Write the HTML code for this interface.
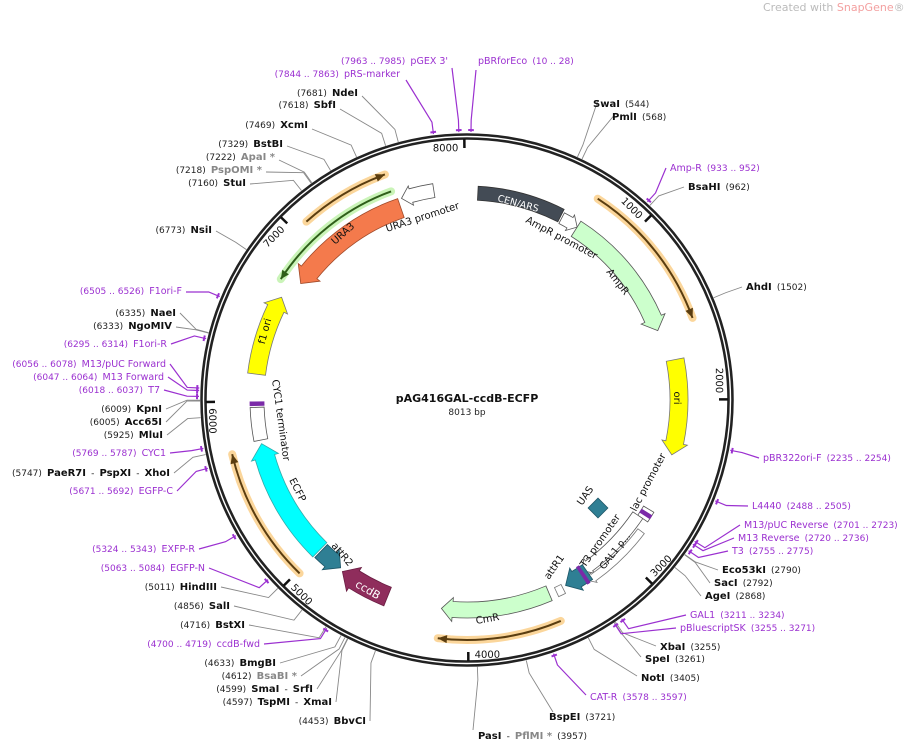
<!DOCTYPE html>
<html><head><meta charset="utf-8">
<style>
html,body{margin:0;padding:0;background:#fff;}
svg{display:block;font-family:"DejaVu Sans","Liberation Sans",sans-serif;}
.n{font-size:9px;fill:#222;}
.b{font-size:10px;font-weight:bold;fill:#111;}
.g{font-size:10px;font-weight:bold;fill:#888;}
.p{font-size:9.5px;fill:#9b30d0;}
.pn{font-size:9px;fill:#9b30d0;}
.f{font-size:10px;fill:#111;}
</style></head>
<body>
<svg id="s" width="914" height="743" viewBox="0 0 914 743" xmlns="http://www.w3.org/2000/svg">
<g id="lines"></g>
<circle cx="467" cy="400" r="263.5" fill="none" stroke="#222" stroke-width="6.5"/>
<circle cx="467" cy="400" r="263.5" fill="none" stroke="#fff" stroke-width="1.4"/>
<g id="feat"></g>
<g id="ticks"></g>

<text x="763" y="11" style="font-size:11px;fill:#bbb">Created with <tspan fill="#f3a0a0">SnapGene</tspan>®</text>
<text x="467" y="402" text-anchor="middle" style="font-size:11px;font-weight:bold;fill:#111">pAG416GAL-ccdB-ECFP</text>
<text x="467" y="415" text-anchor="middle" style="font-size:9px;fill:#222">8013 bp</text>

<!-- top labels -->
<text x="448" y="64" text-anchor="end"><tspan class="pn">(7963 .. 7985)</tspan> <tspan class="p">pGEX 3'</tspan></text>
<text x="478" y="64"><tspan class="p">pBRforEco</tspan>  <tspan class="pn">(10 .. 28)</tspan></text>
<text x="400" y="77" text-anchor="end"><tspan class="pn">(7844 .. 7863)</tspan> <tspan class="p">pRS-marker</tspan></text>
<text x="358" y="96" text-anchor="end"><tspan class="n">(7681)</tspan> <tspan class="b">NdeI</tspan></text>
<text x="336" y="108" text-anchor="end"><tspan class="n">(7618)</tspan> <tspan class="b">SbfI</tspan></text>
<text x="308" y="128" text-anchor="end"><tspan class="n">(7469)</tspan> <tspan class="b">XcmI</tspan></text>
<text x="283" y="147" text-anchor="end"><tspan class="n">(7329)</tspan> <tspan class="b">BstBI</tspan></text>
<text x="275" y="160" text-anchor="end"><tspan class="n">(7222)</tspan> <tspan class="g">ApaI *</tspan></text>
<text x="262" y="173" text-anchor="end"><tspan class="n">(7218)</tspan> <tspan class="g">PspOMI *</tspan></text>
<text x="246" y="186" text-anchor="end"><tspan class="n">(7160)</tspan> <tspan class="b">StuI</tspan></text>
<text x="212" y="233" text-anchor="end"><tspan class="n">(6773)</tspan> <tspan class="b">NsiI</tspan></text>
<!-- left labels -->
<text x="182" y="294" text-anchor="end"><tspan class="pn">(6505 .. 6526)</tspan> <tspan class="p">F1ori-F</tspan></text>
<text x="176" y="316" text-anchor="end"><tspan class="n">(6335)</tspan> <tspan class="b">NaeI</tspan></text>
<text x="172" y="329" text-anchor="end"><tspan class="n">(6333)</tspan> <tspan class="b">NgoMIV</tspan></text>
<text x="167" y="347" text-anchor="end"><tspan class="pn">(6295 .. 6314)</tspan> <tspan class="p">F1ori-R</tspan></text>
<text x="166" y="367" text-anchor="end"><tspan class="pn">(6056 .. 6078)</tspan> <tspan class="p">M13/pUC Forward</tspan></text>
<text x="164" y="380" text-anchor="end"><tspan class="pn">(6047 .. 6064)</tspan> <tspan class="p">M13 Forward</tspan></text>
<text x="160" y="393" text-anchor="end"><tspan class="pn">(6018 .. 6037)</tspan> <tspan class="p">T7</tspan></text>
<text x="162" y="412" text-anchor="end"><tspan class="n">(6009)</tspan> <tspan class="b">KpnI</tspan></text>
<text x="162" y="425" text-anchor="end"><tspan class="n">(6005)</tspan> <tspan class="b">Acc65I</tspan></text>
<text x="163" y="438" text-anchor="end"><tspan class="n">(5925)</tspan> <tspan class="b">MluI</tspan></text>
<text x="166" y="456" text-anchor="end"><tspan class="pn">(5769 .. 5787)</tspan> <tspan class="p">CYC1</tspan></text>
<text x="170" y="476" text-anchor="end"><tspan class="n">(5747)</tspan> <tspan class="b">PaeR7I</tspan> <tspan class="n">-</tspan> <tspan class="b">PspXI</tspan> <tspan class="n">-</tspan> <tspan class="b">XhoI</tspan></text>
<text x="173" y="494" text-anchor="end"><tspan class="pn">(5671 .. 5692)</tspan> <tspan class="p">EGFP-C</tspan></text>
<text x="195" y="552" text-anchor="end"><tspan class="pn">(5324 .. 5343)</tspan> <tspan class="p">EXFP-R</tspan></text>
<text x="205" y="571" text-anchor="end"><tspan class="pn">(5063 .. 5084)</tspan> <tspan class="p">EGFP-N</tspan></text>
<text x="217" y="590" text-anchor="end"><tspan class="n">(5011)</tspan> <tspan class="b">HindIII</tspan></text>
<text x="230" y="609" text-anchor="end"><tspan class="n">(4856)</tspan> <tspan class="b">SalI</tspan></text>
<text x="245" y="628" text-anchor="end"><tspan class="n">(4716)</tspan> <tspan class="b">BstXI</tspan></text>
<text x="260" y="647" text-anchor="end"><tspan class="pn">(4700 .. 4719)</tspan> <tspan class="p">ccdB-fwd</tspan></text>
<text x="276" y="666" text-anchor="end"><tspan class="n">(4633)</tspan> <tspan class="b">BmgBI</tspan></text>
<text x="297" y="679" text-anchor="end"><tspan class="n">(4612)</tspan> <tspan class="g">BsaBI *</tspan></text>
<text x="313" y="692" text-anchor="end"><tspan class="n">(4599)</tspan> <tspan class="b">SmaI</tspan> <tspan class="n">-</tspan> <tspan class="b">SrfI</tspan></text>
<text x="332" y="705" text-anchor="end"><tspan class="n">(4597)</tspan> <tspan class="b">TspMI</tspan> <tspan class="n">-</tspan> <tspan class="b">XmaI</tspan></text>
<text x="366" y="724" text-anchor="end"><tspan class="n">(4453)</tspan> <tspan class="b">BbvCI</tspan></text>
<!-- bottom / right labels -->
<text x="478" y="739"><tspan class="b">PasI</tspan> <tspan class="n">-</tspan> <tspan class="g">PflMI *</tspan> <tspan class="n">(3957)</tspan></text>
<text x="549" y="720"><tspan class="b">BspEI</tspan>  <tspan class="n">(3721)</tspan></text>
<text x="590" y="700"><tspan class="p">CAT-R</tspan>  <tspan class="pn">(3578 .. 3597)</tspan></text>
<text x="641" y="681"><tspan class="b">NotI</tspan>  <tspan class="n">(3405)</tspan></text>
<text x="645" y="662"><tspan class="b">SpeI</tspan>  <tspan class="n">(3261)</tspan></text>
<text x="660" y="650"><tspan class="b">XbaI</tspan>  <tspan class="n">(3255)</tspan></text>
<text x="680" y="631"><tspan class="p">pBluescriptSK</tspan>  <tspan class="pn">(3255 .. 3271)</tspan></text>
<text x="690" y="618"><tspan class="p">GAL1</tspan>  <tspan class="pn">(3211 .. 3234)</tspan></text>
<text x="705" y="599"><tspan class="b">AgeI</tspan>  <tspan class="n">(2868)</tspan></text>
<text x="714" y="586"><tspan class="b">SacI</tspan>  <tspan class="n">(2792)</tspan></text>
<text x="722" y="573"><tspan class="b">Eco53kI</tspan>  <tspan class="n">(2790)</tspan></text>
<text x="732" y="554"><tspan class="p">T3</tspan>  <tspan class="pn">(2755 .. 2775)</tspan></text>
<text x="738" y="541"><tspan class="p">M13 Reverse</tspan>  <tspan class="pn">(2720 .. 2736)</tspan></text>
<text x="744" y="528"><tspan class="p">M13/pUC Reverse</tspan>  <tspan class="pn">(2701 .. 2723)</tspan></text>
<text x="752" y="509"><tspan class="p">L4440</tspan>  <tspan class="pn">(2488 .. 2505)</tspan></text>
<text x="763" y="461"><tspan class="p">pBR322ori-F</tspan>  <tspan class="pn">(2235 .. 2254)</tspan></text>
<text x="746" y="290"><tspan class="b">AhdI</tspan>  <tspan class="n">(1502)</tspan></text>
<text x="670" y="171"><tspan class="p">Amp-R</tspan>  <tspan class="pn">(933 .. 952)</tspan></text>
<text x="688" y="190"><tspan class="b">BsaHI</tspan>  <tspan class="n">(962)</tspan></text>
<text x="593" y="107"><tspan class="b">SwaI</tspan>  <tspan class="n">(544)</tspan></text>
<text x="612" y="120"><tspan class="b">PmlI</tspan>  <tspan class="n">(568)</tspan></text>

<!-- feature labels -->
<text class="f" transform="translate(497,201) rotate(15)" style="fill:#fff;font-size:9.5px">CEN/ARS</text>
<text class="f" transform="translate(525,222) rotate(28)">AmpR promoter</text>
<text class="f" transform="translate(606,272) rotate(52)">AmpR</text>
<text class="f" transform="translate(674,398) rotate(90)" text-anchor="middle">ori</text>
<text class="f" transform="translate(636,512) rotate(-62)">lac promoter</text>
<text class="f" transform="translate(582,506) rotate(-55)">UAS</text>
<text class="f" transform="translate(585,568) rotate(-55)">T3 promoter</text>
<text class="f" transform="translate(604,570) rotate(-52)" style="font-size:9.5px">GAL1 p...</text>
<text class="f" transform="translate(549,580) rotate(-55)">attR1</text>
<text class="f" transform="translate(488,622) rotate(-10)" text-anchor="middle">CmR</text>
<text class="f" transform="translate(366,593) rotate(30)" text-anchor="middle" style="fill:#fff;font-size:11px">ccdB</text>
<text class="f" transform="translate(331,546) rotate(50)">attR2</text>
<text class="f" transform="translate(289,480) rotate(63)">ECFP</text>
<text class="f" transform="translate(272,380) rotate(82)">CYC1 terminator</text>
<text class="f" transform="translate(268,332) rotate(-75)" text-anchor="middle">f1 ori</text>
<text class="f" transform="translate(345,236) rotate(-42)" text-anchor="middle">URA3</text>
<text class="f" transform="translate(387,232) rotate(-18)">URA3 promoter</text>
</svg>
<script>
(function(){
var cx=467,cy=400,NS="http://www.w3.org/2000/svg";
function P(a,r){var t=a*Math.PI/180;return [cx+r*Math.sin(t),cy-r*Math.cos(t)];}
function S(p){return p[0].toFixed(2)+","+p[1].toFixed(2);}
function el(g,tag,at){var e=document.createElementNS(NS,tag);for(var k in at)e.setAttribute(k,at[k]);document.getElementById(g).appendChild(e);return e;}
function arc(a1,a2,r){var lg=Math.abs(a2-a1)>180?1:0;var sw=a2>a1?1:0;return " A"+r+","+r+" 0 "+lg+","+sw+" "+S(P(a2,r));}
function arrow(a1,a2,r,w,dir,fill,stroke,hp){
 var ro=r+w/2,ri=r-w/2,e=hp==null?4:hp,h=(w*0.7)/r*180/Math.PI,d;
 if(dir==1){var b=a2-h;d="M"+S(P(a1,ro))+arc(a1,b,ro)+" L"+S(P(b,ro+e))+" L"+S(P(a2,r))+" L"+S(P(b,ri-e))+" L"+S(P(b,ri))+arc(b,a1,ri)+" Z";}
 else if(dir==-1){var b=a1+h;d="M"+S(P(a2,ro))+arc(a2,b,ro)+" L"+S(P(b,ro+e))+" L"+S(P(a1,r))+" L"+S(P(b,ri-e))+" L"+S(P(b,ri))+arc(b,a2,ri)+" Z";}
 else {d="M"+S(P(a1,ro))+arc(a1,a2,ro)+" L"+S(P(a2,ri))+arc(a2,a1,ri)+" Z";}
 el("feat","path",{d:d,fill:fill,stroke:stroke,"stroke-width":0.8});
}
function track(a1,a2,r,dir,glow,line){
 el("feat","path",{d:"M"+S(P(a1,r))+arc(a1,a2,r),fill:"none",stroke:glow,"stroke-width":8,"stroke-opacity":0.75,"stroke-linecap":"round"});
 el("feat","path",{d:"M"+S(P(a1,r))+arc(a1,a2,r),fill:"none",stroke:line,"stroke-width":2});
 var tip=dir==1?a2:a1, bk=dir==1?a2-2.2:a1+2.2;
 el("feat","path",{d:"M"+S(P(tip,r))+" L"+S(P(bk,r+4))+" L"+S(P(bk,r-4))+" Z",fill:line});
}
arrow(3,27,207,14,0,"#434b55","#333");
arrow(27.5,32.5,205,12,1,"#fff","#555",3);
arrow(32.5,70,203,18,1,"#ccffcc","#555");
track(33,70,240,1,"#f9c87a","#5a3d10");
arrow(79,105,212,18,1,"#ffff00","#777");
arrow(121,124,212,12,0,"#fff","#555");
arrow(122,123,212,12,0,"#7b2aa8","#7b2aa8");
arrow(124,146,206,12,1,"#fff","#555",3);
arrow(127,146,218,8,1,"#fff","#777",2);
arrow(145,152,210,18,1,"#2f7f94","#1d5566");
arrow(146,146.8,210,20,0,"#7b2aa8","#7b2aa8");
arrow(153,155,212,10,0,"#fff","#777");
arrow(157,187,210,16,1,"#ccffcc","#555");
track(157,187,240,1,"#f9c87a","#5a3d10");
arrow(202,216,212,20,1,"#8f2d5c","#6a1e43");
arrow(217,224,210,18,-1,"#2f7f94","#1d5566");
arrow(224.5,258,210,20,1,"#00ffff","#3aa");
track(224,257,241,1,"#f9c87a","#5a3d10");
arrow(259,268,210,14,0,"#fff","#555");
arrow(268.5,269.5,210,14,0,"#7b2aa8","#7b2aa8");
arrow(277,299,212,18,1,"#ffff00","#777");
arrow(305,341,203,20,-1,"#f47a4c","#a04a2a");
arrow(342,351,212,14,-1,"#fff","#555",3);
track(303,340,222,-1,"#b8f0a0","#2f5e1a");
track(318,340,240,1,"#f9c87a","#5a3d10");
el("feat","rect",{x:591,y:501,width:14,height:14,fill:"#2f7f94",stroke:"#1d5566","stroke-width":0.8,transform:"rotate(45 598 508)"});
var lab=["8000","1000","2000","3000","4000","5000","6000","7000"];
for(var k=0;k<8;k++){var bp=k==0?8000:k*1000;var a=bp/8013*360;
 el("ticks","line",{x1:P(a,261)[0],y1:P(a,261)[1],x2:P(a,252)[0],y2:P(a,252)[1],stroke:"#111","stroke-width":2.5});
 var t;if(a>90&&a<270.5){var q=P(a-1.4,258);t=el("ticks","text",{transform:"translate("+q[0]+","+q[1]+") rotate("+(a-180)+")","font-size":"10","fill":"#111"});}
 else{var q=P(a-1.4,249);t=el("ticks","text",{transform:"translate("+q[0]+","+q[1]+") rotate("+(a>270?a-360:a)+")","font-size":"10","fill":"#111","text-anchor":"end"});}
 t.textContent=lab[k];}
var L=[[452,68,7974,1],[476,70,19,1],[406,80,7853,1],[362,96,7681],[340,109,7618],[312,129,7469],[287,146,7329],[279,160,7222],[266,172,7218],[250,184,7160],[216,231,6773],
[186,292,6515,1],[180,313,6335],[176,327,6333],[171,344,6304,1],[170,364,6067,1],[168,377,6055,1],[164,390,6027,1],[166,409,6009],[166,422,6005],[167,435,5925],[170,453,5778,1],[174,473,5747],[177,491,5681,1],[199,549,5333,1],[209,568,5073,1],[221,587,5011],[234,606,4856],[249,625,4716],[264,644,4709,1],[280,663,4633],[301,676,4612],[317,689,4599],[336,702,4597],[370,721,4453],
[473,730,3957],[553,712,3721],[586,695,3587,1],[637,676,3405],[641,657,3261],[656,646,3255],[676,628,3263,1],[686,615,3222,1],[701,596,2868],[710,583,2792],[718,570,2790],[728,551,2765,1],[734,538,2728,1],[740,525,2712,1],[748,506,2496,1],[759,458,2244,1],[742,287,1502],[666,168,942,1],[684,187,962],[598,100,544],[616,113,568]];
L.forEach(function(l){var a=l[2]/8013*360,p1=P(a,280),p2=P(a,l[3]?268:267);var c=l[3]?"#9b30d0":"#888";
 el("lines","polyline",{points:l[0]+","+l[1]+" "+S(p1)+" "+S(p2),fill:"none",stroke:c,"stroke-width":l[3]?1.2:0.9});
 if(l[3]){var m1=P(a-0.6,270),m2=P(a+0.6,270);el("lines","line",{x1:m1[0],y1:m1[1],x2:m2[0],y2:m2[1],stroke:c,"stroke-width":2});}
});
})();
</script>
</body></html>
